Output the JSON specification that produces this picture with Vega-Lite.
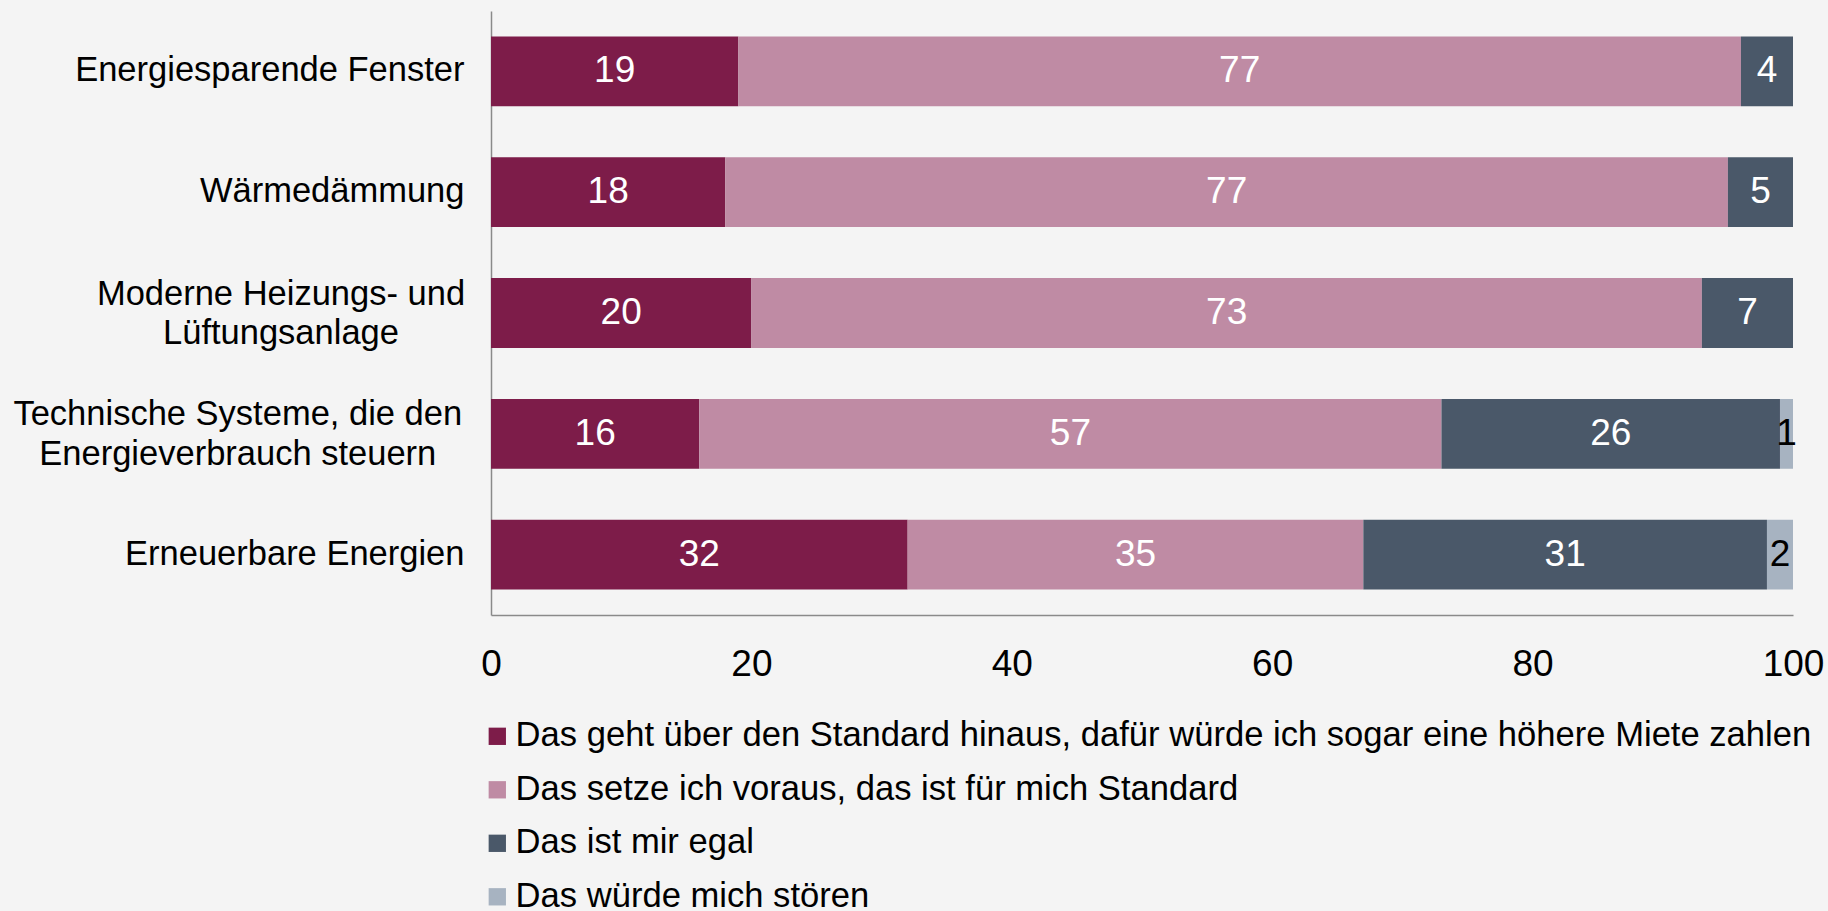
{
  "$schema": "https://vega.github.io/schema/vega-lite/v6.json",
  "width": 1302,
  "height": 604,
  "autosize": {"type": "none"},
  "padding": {"left": 491, "top": 11, "right": 35, "bottom": 296},
  "background": "#F4F4F4",
  "config": {"view": {"stroke": null}, "font": "Liberation Sans"},
  "data": {
    "values": [
      {"item": "Energiesparende Fenster", "category": "Das geht über den Standard hinaus, dafür würde ich sogar eine höhere Miete zahlen", "order": 1, "value": 19},
      {"item": "Energiesparende Fenster", "category": "Das setze ich voraus, das ist für mich Standard", "order": 2, "value": 77},
      {"item": "Energiesparende Fenster", "category": "Das ist mir egal", "order": 3, "value": 4},
      {"item": "Wärmedämmung", "category": "Das geht über den Standard hinaus, dafür würde ich sogar eine höhere Miete zahlen", "order": 1, "value": 18},
      {"item": "Wärmedämmung", "category": "Das setze ich voraus, das ist für mich Standard", "order": 2, "value": 77},
      {"item": "Wärmedämmung", "category": "Das ist mir egal", "order": 3, "value": 5},
      {"item": "Moderne Heizungs- und Lüftungsanlage", "category": "Das geht über den Standard hinaus, dafür würde ich sogar eine höhere Miete zahlen", "order": 1, "value": 20},
      {"item": "Moderne Heizungs- und Lüftungsanlage", "category": "Das setze ich voraus, das ist für mich Standard", "order": 2, "value": 73},
      {"item": "Moderne Heizungs- und Lüftungsanlage", "category": "Das ist mir egal", "order": 3, "value": 7},
      {"item": "Technische Systeme, die den Energieverbrauch steuern", "category": "Das geht über den Standard hinaus, dafür würde ich sogar eine höhere Miete zahlen", "order": 1, "value": 16},
      {"item": "Technische Systeme, die den Energieverbrauch steuern", "category": "Das setze ich voraus, das ist für mich Standard", "order": 2, "value": 57},
      {"item": "Technische Systeme, die den Energieverbrauch steuern", "category": "Das ist mir egal", "order": 3, "value": 26},
      {"item": "Technische Systeme, die den Energieverbrauch steuern", "category": "Das würde mich stören", "order": 4, "value": 1},
      {"item": "Erneuerbare Energien", "category": "Das geht über den Standard hinaus, dafür würde ich sogar eine höhere Miete zahlen", "order": 1, "value": 32},
      {"item": "Erneuerbare Energien", "category": "Das setze ich voraus, das ist für mich Standard", "order": 2, "value": 35},
      {"item": "Erneuerbare Energien", "category": "Das ist mir egal", "order": 3, "value": 31},
      {"item": "Erneuerbare Energien", "category": "Das würde mich stören", "order": 4, "value": 2}
    ]
  },
  "encoding": {
    "y": {
      "field": "item",
      "type": "nominal",
      "sort": ["Energiesparende Fenster", "Wärmedämmung", "Moderne Heizungs- und Lüftungsanlage", "Technische Systeme, die den Energieverbrauch steuern", "Erneuerbare Energien"],
      "scale": {"paddingInner": 0.4225, "paddingOuter": 0.21125},
      "axis": {
        "title": null,
        "ticks": false,
        "domainColor": "#8A8A8A",
        "domainWidth": 1.5,
        "labelFontSize": 34.5,
        "labelColor": "#000000",
        "labelPadding": 27,
        "labelLimit": 0,
        "labelLineHeight": 39.5,
        "labelAlign": {"condition": {"test": "datum.value == 'Moderne Heizungs- und Lüftungsanlage' || datum.value == 'Technische Systeme, die den Energieverbrauch steuern'", "value": "center"}, "value": "right"},
        "labelOffset": {"condition": {"test": "datum.value == 'Moderne Heizungs- und Lüftungsanlage' || datum.value == 'Technische Systeme, die den Energieverbrauch steuern'", "value": -18.5}, "value": 0},
        "labelExpr": "datum.value == 'Moderne Heizungs- und Lüftungsanlage' ? ['Moderne Heizungs- und', 'Lüftungsanlage'] : datum.value == 'Technische Systeme, die den Energieverbrauch steuern' ? ['Technische Systeme, die den', 'Energieverbrauch steuern'] : datum.value",
        "encoding": {
          "labels": {
            "dx": {
              "condition": [
                {"test": "datum.value == 'Moderne Heizungs- und Lüftungsanlage'", "value": -183.5},
                {"test": "datum.value == 'Technische Systeme, die den Energieverbrauch steuern'", "value": -226.7}
              ],
              "value": 0
            }
          }
        }
      }
    }
  },
  "layer": [
    {
      "mark": {"type": "bar"},
      "encoding": {
        "x": {
          "field": "value",
          "type": "quantitative",
          "stack": "zero",
          "scale": {"domain": [0, 100], "nice": false},
          "axis": {
            "title": null,
            "values": [0, 20, 40, 60, 80, 100],
            "grid": false,
            "ticks": false,
            "domainColor": "#8A8A8A",
            "domainWidth": 1.5,
            "labelFontSize": 37,
            "labelColor": "#000000",
            "labelPadding": 31,
            "labelFlush": false,
            "labelOverlap": false
          }
        },
        "order": {"field": "order"},
        "color": {
          "field": "category",
          "type": "nominal",
          "scale": {
            "domain": ["Das geht über den Standard hinaus, dafür würde ich sogar eine höhere Miete zahlen", "Das setze ich voraus, das ist für mich Standard", "Das ist mir egal", "Das würde mich stören"],
            "range": ["#7D1C49", "#BF8BA4", "#4A5869", "#A7B3C1"]
          },
          "legend": {
            "title": null,
            "orient": "none",
            "legendX": -11,
            "legendY": 708,
            "direction": "vertical",
            "symbolType": "square",
            "symbolSize": 300,
            "symbolStrokeWidth": 0,
            "labelFontSize": 34.6,
            "labelColor": "#000000",
            "labelLimit": 0,
            "labelOffset": 1,
            "rowPadding": 18.5,
            "padding": 0
          }
        }
      }
    },
    {
      "transform": [
        {"stack": "value", "groupby": ["item"], "sort": [{"field": "order"}], "as": ["x0", "x1"]},
        {"fold": ["x0", "x1"], "as": ["edge", "pos"]},
        {"aggregate": [{"op": "mean", "field": "pos", "as": "mid"}], "groupby": ["item", "category", "value", "order"]}
      ],
      "mark": {"type": "text", "fontSize": 37, "align": "center", "baseline": "middle"},
      "encoding": {
        "x": {"field": "mid", "type": "quantitative"},
        "text": {"field": "value", "type": "quantitative"},
        "color": {
          "condition": {"test": "datum.category === 'Das würde mich stören'", "value": "#000000"},
          "value": "#FFFFFF"
        }
      }
    }
  ]
}
